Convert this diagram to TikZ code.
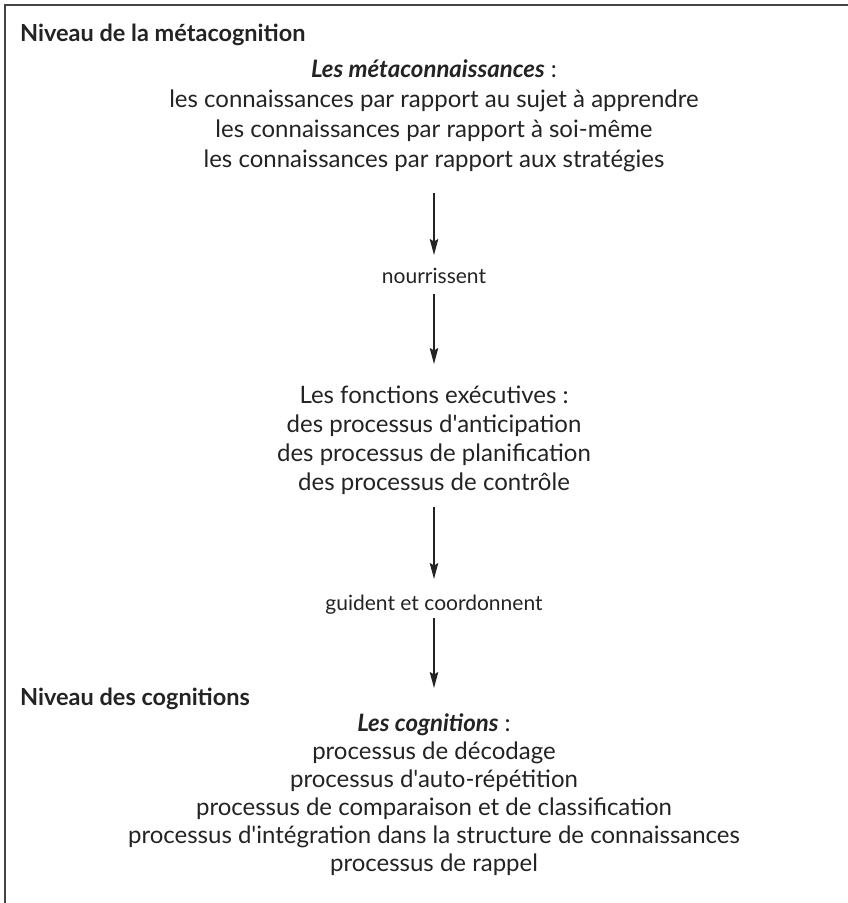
\documentclass[tikz,border=0pt]{standalone}
\usepackage{fontspec}
\setmainfont{Lato}[Ligatures=TeXOff]
\usetikzlibrary{arrows.meta}
\definecolor{ink}{HTML}{232323}
\definecolor{frame}{HTML}{444444}
\tikzset{
  body/.style={anchor=base, inner sep=0pt, text=ink, font=\fontsize{24}{28}\selectfont},
  lbl/.style={anchor=base, inner sep=0pt, text=ink, font=\fontsize{21}{25}\selectfont},
  head/.style={anchor=base west, inner sep=0pt, text=ink, font=\fontsize{23.5}{28}\selectfont\bfseries},
  arr/.style={draw=ink, line width=1.2pt, -{Stealth[length=16pt,width=8.5pt,inset=2.5pt]}},
  border/.style={draw=frame, line width=2pt}
}
\begin{document}
\begin{tikzpicture}[x=1pt,y=-1pt]
\useasboundingbox (0,0) rectangle (848,903);
\coordinate (tl) at (5,5);
\coordinate (tr) at (849,5);
\coordinate (bl) at (5,904);
\draw[border] (tr) -- (tl) -- (bl);

\node[head] (h1) at (20,41) {Niveau de la métacognition};
\node[body] (m0) at (434,77) {{\bfseries\itshape Les métaconnaissances} :};
\node[body] (m1) at (434,107) {les connaissances par rapport au sujet à apprendre};
\node[body] (m2) at (434,137) {les connaissances par rapport à soi-même};
\node[body] (m3) at (434,167) {les connaissances par rapport aux stratégies};

\node[lbl] (n) at (434,283) {nourrissent};

\node[body] (f0) at (434,403) {Les fonctions exécutives :};
\node[body] (f1) at (434,432) {des processus d'anticipation};
\node[body] (f2) at (434,461) {des processus de planification};
\node[body] (f3) at (434,490) {des processus de contrôle};

\node[lbl] (g) at (434,610) {guident et coordonnent};

\node[head] (h2) at (20,705) {Niveau des cognitions};
\node[body] (c0) at (434,731) {{\bfseries\itshape Les cognitions} :};
\node[body] (c1) at (434,759) {processus de décodage};
\node[body] (c2) at (434,787) {processus d'auto-répétition};
\node[body] (c3) at (434,815) {processus de comparaison et de classification};
\node[body] (c4) at (434,843) {processus d'intégration dans la structure de connaissances};
\node[body] (c5) at (434,871) {processus de rappel};

\draw[arr] ([yshift=-26pt]m3.base) -- ([yshift=28pt]n.base);
\draw[arr] ([yshift=-11pt]n.base) -- ([yshift=39pt]f0.base);
\draw[arr] ([yshift=-17pt]f3.base) -- ([yshift=31pt]g.base);
\draw[arr] ([yshift=-8pt]g.base) -- ([yshift=43pt]c0.base);
\end{tikzpicture}
\end{document}
